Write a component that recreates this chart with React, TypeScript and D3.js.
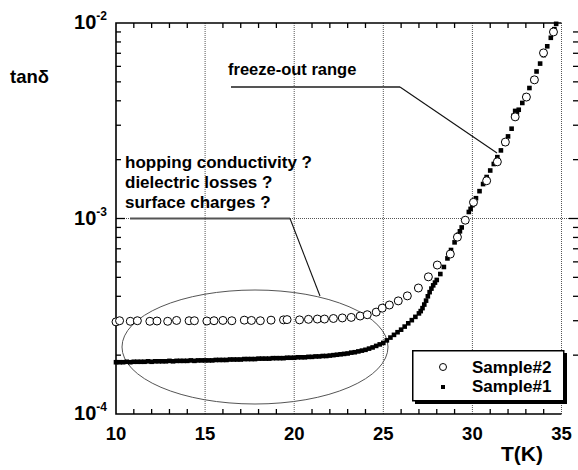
import { useRef, useEffect } from 'react'
import * as d3 from 'd3'

// Sample#2 (open circles)
const t2 = [10.0, 10.2, 10.8, 11.2, 11.9, 12.3, 12.9, 13.4, 14.1, 14.4, 15.1, 15.5, 16.0, 16.5, 17.2, 17.6, 18.1, 18.7, 19.4, 19.6, 20.3, 20.8, 21.3, 21.7, 22.2, 22.7, 23.2, 23.7, 24.1, 24.6, 24.94, 25.34, 25.84, 26.35, 26.97, 27.53, 28.03, 28.76, 29.16, 29.6, 30.06, 30.8, 31.4, 31.85, 32.4, 33.03, 33.48, 33.99, 34.55]
const tan2 = [2.96e-4, 3.0e-4, 2.98e-4, 3.0e-4, 2.98e-4, 2.99e-4, 2.98e-4, 3.01e-4, 3.0e-4, 3.0e-4, 2.99e-4, 3.0e-4, 3.01e-4, 3.0e-4, 3.02e-4, 3.01e-4, 3.0e-4, 3.02e-4, 3.03e-4, 3.04e-4, 3.03e-4, 3.05e-4, 3.06e-4, 3.06e-4, 3.08e-4, 3.1e-4, 3.12e-4, 3.17e-4, 3.22e-4, 3.32e-4, 3.48e-4, 3.61e-4, 3.79e-4, 4.02e-4, 4.41e-4, 5.03e-4, 5.78e-4, 6.58e-4, 8.03e-4, 9.8e-4, 1.21e-3, 1.56e-3, 1.95e-3, 2.46e-3, 3.31e-3, 4.18e-3, 5.12e-3, 7.03e-3, 9.0e-3]

// Sample#1 (filled squares)
const t1 = [10.0, 10.2, 10.4, 10.6, 10.8, 11.0, 11.2, 11.4, 11.6, 11.8, 12.0, 12.2, 12.4, 12.6, 12.8, 13.0, 13.2, 13.4, 13.6, 13.8, 14.0, 14.2, 14.4, 14.6, 14.8,
  15.0, 15.2, 15.4, 15.6, 15.8, 16.0, 16.2, 16.4, 16.6, 16.8, 17.0, 17.2, 17.4, 17.6, 17.8, 18.0, 18.2, 18.4, 18.6, 18.8, 19.0, 19.2, 19.4, 19.6, 19.8,
  20.0, 20.2, 20.4, 20.6, 20.8, 21.0, 21.2, 21.4, 21.6, 21.8, 22.0, 22.2, 22.4, 22.6, 22.8, 23.0, 23.2, 23.4, 23.6, 23.8, 24.0, 24.2, 24.4, 24.6, 24.8,
  25.0, 25.2, 25.4, 25.6, 25.8, 26.0, 26.2, 26.4, 26.6, 26.8, 27.0, 27.1, 27.2, 27.3, 27.4, 27.5, 27.6, 27.7, 27.8, 27.9, 28.0, 28.2, 28.4, 28.6, 28.8, 29.0, 29.1, 29.2, 29.3, 29.4, 29.6, 29.8,
  29.9, 30.0, 30.2, 30.4, 30.6, 30.8, 31.0, 31.2, 31.4, 31.6, 31.8, 32.0, 32.2, 32.3, 32.4, 32.5, 32.6, 32.8, 33.0, 33.2, 33.4, 33.6, 33.8, 34.0, 34.2, 34.4, 34.6, 34.7]
const tan1 = [1.84e-4, 1.84e-4, 1.84e-4, 1.85e-4, 1.84e-4, 1.85e-4, 1.85e-4, 1.85e-4, 1.85e-4, 1.86e-4, 1.85e-4, 1.86e-4, 1.86e-4, 1.86e-4, 1.86e-4, 1.87e-4, 1.86e-4, 1.87e-4, 1.87e-4, 1.87e-4, 1.87e-4, 1.88e-4, 1.87e-4, 1.88e-4, 1.88e-4,
  1.88e-4, 1.88e-4, 1.88e-4, 1.89e-4, 1.89e-4, 1.89e-4, 1.89e-4, 1.9e-4, 1.9e-4, 1.9e-4, 1.9e-4, 1.91e-4, 1.91e-4, 1.91e-4, 1.91e-4, 1.92e-4, 1.92e-4, 1.92e-4, 1.92e-4, 1.93e-4, 1.93e-4, 1.93e-4, 1.93e-4, 1.94e-4, 1.94e-4,
  1.94e-4, 1.95e-4, 1.95e-4, 1.95e-4, 1.96e-4, 1.96e-4, 1.97e-4, 1.97e-4, 1.98e-4, 1.98e-4, 1.99e-4, 2.0e-4, 2.01e-4, 2.02e-4, 2.03e-4, 2.04e-4, 2.06e-4, 2.07e-4, 2.09e-4, 2.11e-4, 2.13e-4, 2.16e-4, 2.19e-4, 2.23e-4, 2.27e-4,
  2.31e-4, 2.38e-4, 2.46e-4, 2.54e-4, 2.62e-4, 2.7e-4, 2.8e-4, 2.91e-4, 3.02e-4, 3.14e-4, 3.27e-4, 3.36e-4, 3.48e-4, 3.63e-4, 3.8e-4, 4.0e-4, 4.2e-4, 4.38e-4, 4.55e-4, 4.7e-4, 4.85e-4, 5.2e-4, 5.65e-4, 6.25e-4, 6.9e-4, 7.55e-4, 7.9e-4, 8.25e-4, 8.6e-4, 9.0e-4, 9.8e-4, 1.08e-3,
  1.12e-3, 1.17e-3, 1.27e-3, 1.38e-3, 1.5e-3, 1.63e-3, 1.76e-3, 1.9e-3, 2.06e-3, 2.23e-3, 2.42e-3, 2.63e-3, 2.88e-3, 3.35e-3, 3.55e-3, 3.5e-3, 3.6e-3, 3.9e-3, 4.25e-3, 4.65e-3, 5.1e-3, 5.65e-3, 6.2e-3, 6.85e-3, 7.6e-3, 8.4e-3, 9.3e-3, 9.9e-3]

const xMajor = [10, 15, 20, 25, 30, 35]
const xMinor = [11, 12, 13, 14, 16, 17, 18, 19, 21, 22, 23, 24, 26, 27, 28, 29, 31, 32, 33, 34]
const yDecades = [1e-4, 1e-3, 1e-2]
const yExponents = ['-4', '-3', '-2']
const yMinor = [2e-4, 3e-4, 4e-4, 5e-4, 6e-4, 7e-4, 8e-4, 9e-4, 2e-3, 3e-3, 4e-3, 5e-3, 6e-3, 7e-3, 8e-3, 9e-3]
const legendLabels = ['Sample#2', 'Sample#1']
const noteLines = ['hopping conductivity ?', 'dielectric losses ?', 'surface charges ?']

const FONT = 'Liberation Sans, Arial, Helvetica, sans-serif'

export default function App() {
  const svgRef = useRef<SVGSVGElement>(null)

  useEffect(() => {
    if (!svgRef.current) return
    const W = 578
    const H = 470
    const left = 116
    const top = 23
    const bottom = 414
    const rightAxis = 578

    const svg = d3.select(svgRef.current)
    svg.selectAll('*').remove()
    svg.attr('width', W).attr('height', H)

    svg.append('rect').attr('width', W).attr('height', H).attr('fill', '#fff')

    const x = d3.scaleLinear().domain([10, 35]).range([left, 561.5])
    const y = d3.scaleLog().domain([1e-4, 1e-2]).range([bottom, top])

    // grid
    svg.append('g')
      .selectAll('line')
      .data(xMajor.slice(1))
      .join('line')
      .attr('x1', (d) => x(d))
      .attr('x2', (d) => x(d))
      .attr('y1', top)
      .attr('y2', bottom)
      .attr('stroke', '#555')
      .attr('stroke-width', 1)
      .attr('stroke-dasharray', '1,1')

    svg.append('line')
      .attr('x1', left)
      .attr('x2', rightAxis)
      .attr('y1', y(1e-3))
      .attr('y2', y(1e-3))
      .attr('stroke', '#555')
      .attr('stroke-width', 1)
      .attr('stroke-dasharray', '1,1')

    // spines
    svg.append('path')
      .attr('d', `M${x(35)},${top}H${left}V${bottom}H${x(35)}`)
      .attr('fill', 'none')
      .attr('stroke', '#000')
      .attr('stroke-width', 1.6)

    // x minor ticks (bottom up, top down)
    const ticks = svg.append('g').attr('stroke', '#000').attr('stroke-width', 1.3)
    ticks.selectAll('.tb')
      .data(xMinor)
      .join('line')
      .attr('x1', (d) => x(d))
      .attr('x2', (d) => x(d))
      .attr('y1', bottom)
      .attr('y2', bottom - 5)
    ticks.selectAll('.tt')
      .data(xMinor)
      .join('line')
      .attr('class', 'tt')
      .attr('x1', (d) => x(d))
      .attr('x2', (d) => x(d))
      .attr('y1', top)
      .attr('y2', top + 5)

    // y ticks (left + right)
    ticks.selectAll('.yl')
      .data(yMinor)
      .join('line')
      .attr('class', 'yl')
      .attr('x1', left)
      .attr('x2', left + 5)
      .attr('y1', (d) => y(d))
      .attr('y2', (d) => y(d))
    ticks.append('line')
      .attr('x1', left)
      .attr('x2', left + 9)
      .attr('y1', y(1e-3))
      .attr('y2', y(1e-3))
    ticks.selectAll('.yr')
      .data(yMinor)
      .join('line')
      .attr('class', 'yr')
      .attr('x1', rightAxis - 5)
      .attr('x2', rightAxis)
      .attr('y1', (d) => y(d))
      .attr('y2', (d) => y(d))
    ticks.append('line')
      .attr('x1', rightAxis - 9)
      .attr('x2', rightAxis)
      .attr('y1', y(1e-3))
      .attr('y2', y(1e-3))

    // x tick labels
    svg.append('g')
      .selectAll('text')
      .data(xMajor)
      .join('text')
      .attr('x', (d) => x(d))
      .attr('y', 440)
      .attr('text-anchor', 'middle')
      .attr('font-family', FONT)
      .attr('font-weight', 'bold')
      .attr('font-size', 18.5)
      .text((d) => d)

    // y tick labels 10^n
    const yl = svg.append('g')
      .selectAll('text')
      .data(yDecades)
      .join('text')
      .attr('x', 107)
      .attr('y', (d) => y(d) + 6)
      .attr('text-anchor', 'end')
      .attr('font-family', FONT)
      .attr('font-weight', 'bold')
      .attr('font-size', 20)
    yl.append('tspan').text('10')
    yl.append('tspan')
      .attr('dy', -9)
      .attr('font-size', 12)
      .text((_, i) => yExponents[i])

    // axis titles
    svg.append('text')
      .attr('x', 10)
      .attr('y', 83)
      .attr('font-family', FONT)
      .attr('font-weight', 'bold')
      .attr('font-size', 18.5)
      .text('tanδ')
    svg.append('text')
      .attr('x', 501)
      .attr('y', 461)
      .attr('font-family', FONT)
      .attr('font-weight', 'bold')
      .attr('font-size', 21)
      .text('T(K)')

    // annotations
    svg.append('path')
      .attr('d', 'M231,87H400')
      .attr('stroke', '#555')
      .attr('stroke-width', 2)
    svg.append('path')
      .attr('d', 'M400,87L497,153')
      .attr('stroke', '#111')
      .attr('stroke-width', 1.1)
      .attr('fill', 'none')
    svg.append('text')
      .attr('x', 228)
      .attr('y', 75)
      .attr('font-family', FONT)
      .attr('font-weight', 'bold')
      .attr('font-size', 16.5)
      .text('freeze-out range')

    svg.append('g')
      .selectAll('text')
      .data(noteLines)
      .join('text')
      .attr('x', 125)
      .attr('y', (_, i) => 168 + i * 20)
      .attr('font-family', FONT)
      .attr('font-weight', 'bold')
      .attr('font-size', 17)
      .text((d) => d)
    svg.append('path')
      .attr('d', `M130,${y(1e-3)}H290`)
      .attr('stroke', '#555')
      .attr('stroke-width', 2)
    svg.append('path')
      .attr('d', `M290,${y(1e-3)}L320,296`)
      .attr('stroke', '#111')
      .attr('stroke-width', 1.1)
      .attr('fill', 'none')
    svg.append('ellipse')
      .attr('cx', 255)
      .attr('cy', 347)
      .attr('rx', 133)
      .attr('ry', 57)
      .attr('fill', 'none')
      .attr('stroke', '#555')
      .attr('stroke-width', 1)

    // Sample#1 squares
    const s = 4.6
    svg.append('g')
      .selectAll('rect')
      .data(t1.map((t, i) => [t, tan1[i]]))
      .join('rect')
      .attr('x', (d) => x(d[0]) - s / 2)
      .attr('y', (d) => y(d[1]) - s / 2)
      .attr('width', s)
      .attr('height', s)
      .attr('fill', '#000')

    // Sample#2 circles
    svg.append('g')
      .selectAll('circle')
      .data(t2.map((t, i) => [t, tan2[i]]))
      .join('circle')
      .attr('cx', (d) => x(d[0]))
      .attr('cy', (d) => y(d[1]))
      .attr('r', 4)
      .attr('fill', '#fff')
      .attr('stroke', '#000')
      .attr('stroke-width', 1)

    // legend
    const lg = svg.append('g').attr('transform', 'translate(412,350)')
    lg.append('rect').attr('x', 3).attr('y', 3).attr('width', 152).attr('height', 51).attr('fill', '#000')
    lg.append('rect')
      .attr('x', 0.75)
      .attr('y', 0.75)
      .attr('width', 151)
      .attr('height', 50)
      .attr('fill', '#fff')
      .attr('stroke', '#000')
      .attr('stroke-width', 1.5)
    lg.append('circle').attr('cx', 31).attr('cy', 17).attr('r', 3.5).attr('fill', '#fff').attr('stroke', '#000')
    lg.append('rect').attr('x', 29).attr('y', 35).attr('width', 4).attr('height', 4).attr('fill', '#000')
    lg.selectAll('text')
      .data(legendLabels)
      .join('text')
      .attr('x', 60)
      .attr('y', (_, i) => 23 + i * 19)
      .attr('font-family', FONT)
      .attr('font-weight', 'bold')
      .attr('font-size', 17)
      .text((d) => d)

    return () => {
      svg.selectAll('*').remove()
    }
  }, [])

  return (
    <div style={{ position: 'absolute', left: 0, top: 0 }}>
      <svg ref={svgRef} style={{ display: 'block' }} />
    </div>
  )
}
